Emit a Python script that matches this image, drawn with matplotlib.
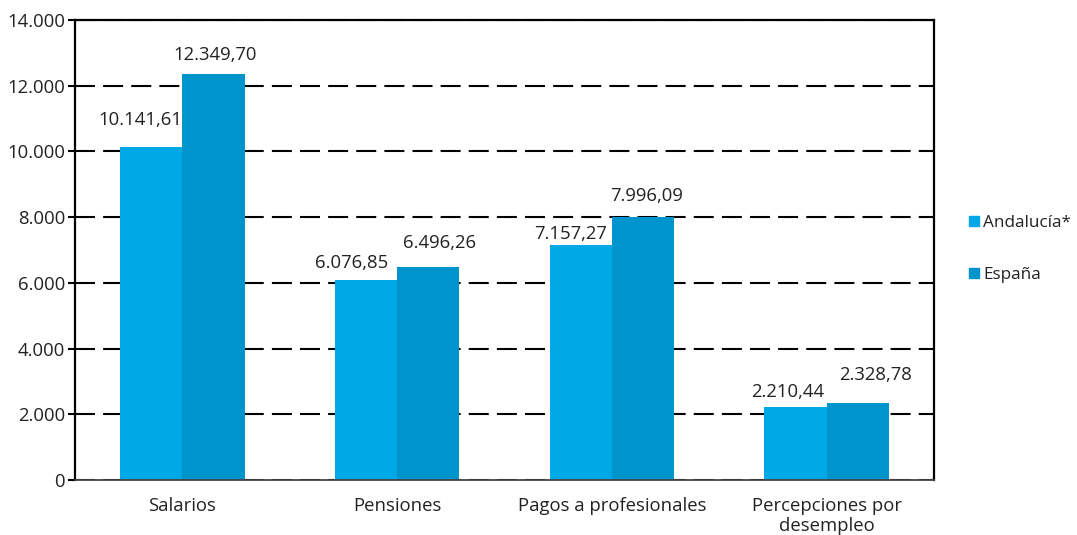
import matplotlib
matplotlib.use("Agg")
import matplotlib.pyplot as plt
from matplotlib.lines import Line2D
import numpy as np

# Datos (euros)
categorias = ["Salarios", "Pensiones", "Pagos a profesionales", "Percepciones por\ndesempleo"]
andalucia = [10141.61, 6076.85, 7157.27, 2210.44]
espana = [12349.70, 6496.26, 7996.09, 2328.78]
series_nombres = ["Andalucía*", "España"]
yticks = [0, 2000, 4000, 6000, 8000, 10000, 12000, 14000]

COLOR_AND = "#00A8E6"
COLOR_ESP = "#0094CC"
TXT = "#222222"
FS = 13.3

# desplazamiento de las etiquetas (px) respecto al centro superior de la barra
off_and = [(-11, 27), (-14, 17), (-10, 11), (-8, 15)]
off_esp = [(2, 19), (11, 24), (4, 21), (18, 28)]


def fmt_es(v, dec=2):
    s = f"{v:,.{dec}f}"
    return s.replace(",", "X").replace(".", ",").replace("X", ".")


plt.rcParams["font.family"] = ["Open Sans", "DejaVu Sans"]

fig = plt.figure(figsize=(10.77, 5.35), dpi=100, facecolor="white")
ax = fig.add_axes([0.0696, 0.1028, 0.7976, 0.8598])

x = np.arange(len(categorias))
w = 0.29
b1 = ax.bar(x - w / 2, andalucia, width=w, color=COLOR_AND, zorder=2)
b2 = ax.bar(x + w / 2, espana, width=w, color=COLOR_ESP, zorder=2)

for bars, vals, offs in [(b1, andalucia, off_and), (b2, espana, off_esp)]:
    for r, v, (dx, dy) in zip(bars, vals, offs):
        ax.annotate(fmt_es(v), (r.get_x() + r.get_width() / 2, r.get_height()),
                    xytext=(dx, dy), textcoords="offset pixels",
                    ha="center", va="center", fontsize=FS, color=TXT)

ax.set_xlim(-0.5, len(categorias) - 0.5)
ax.set_ylim(0, 14000)
ax.set_yticks(yticks)
ax.set_yticklabels([fmt_es(t, 0) for t in yticks])
ax.set_xticks(x)
ax.set_xticklabels(categorias, fontsize=FS, color=TXT, linespacing=1.15)
ax.tick_params(axis="x", length=0, pad=12)
ax.tick_params(axis="y", length=5, width=1.5, color="black", labelsize=FS,
               labelcolor=TXT, pad=2)

ax.yaxis.grid(True, color="black", linewidth=1.5, linestyle=(0, (9.6, 3.9)), zorder=1)
ax.set_axisbelow(True)

for s in ["left", "top", "right"]:
    ax.spines[s].set_linewidth(1.6)
    ax.spines[s].set_color("black")
ax.spines["bottom"].set_linewidth(1.3)
ax.spines["bottom"].set_color("#444444")

handles = [Line2D([], [], marker="s", linestyle="none", markersize=7.5,
                  markerfacecolor=c, markeredgecolor=c)
           for c in (COLOR_AND, COLOR_ESP)]
fig.legend(handles, series_nombres, loc="center left",
           bbox_to_anchor=(0.892, 0.535), frameon=False, fontsize=12.3,
           handlelength=0.6, handletextpad=0.2, labelspacing=2.1,
           borderpad=0, labelcolor=TXT)

fig.savefig("out.png", dpi=100, facecolor="white")
